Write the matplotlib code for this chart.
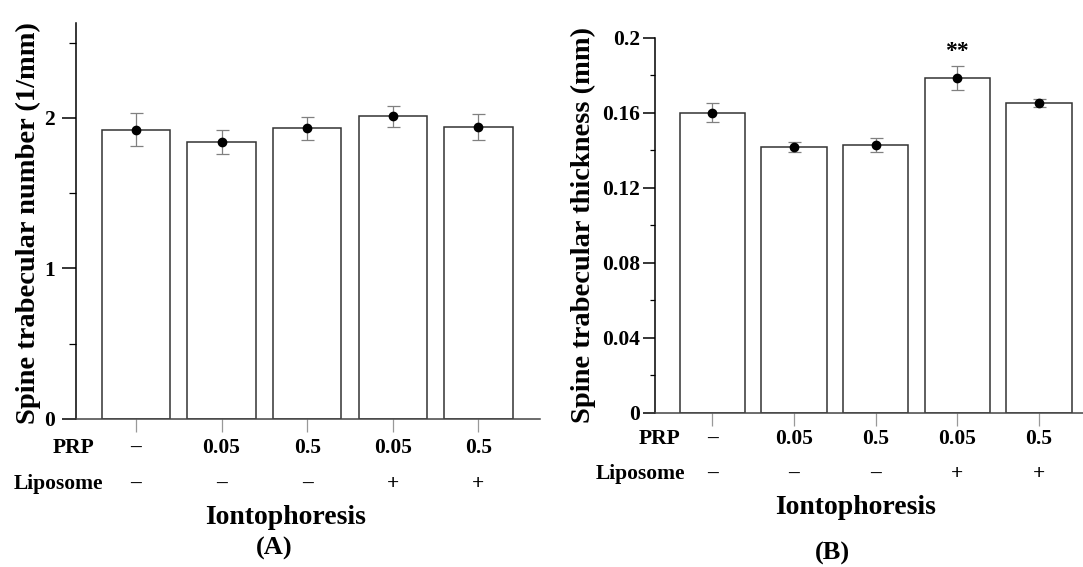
import matplotlib
matplotlib.use('Agg')
import matplotlib.pyplot as plt
import matplotlib.transforms as mtransforms
from matplotlib.ticker import MultipleLocator

plt.rcParams['font.family'] = ['Liberation Serif', 'DejaVu Serif']
plt.rcParams['font.weight'] = 'bold'

prp = ['\u2013', '0.05', '0.5', '0.05', '0.5']
liposome = ['\u2013', '\u2013', '\u2013', '+', '+']

number_mean = [1.92, 1.84, 1.93, 2.01, 1.94]
number_err = [0.11, 0.08, 0.075, 0.07, 0.085]

thick_mean = [0.160, 0.1419, 0.1429, 0.1785, 0.1653]
thick_err = [0.005, 0.0027, 0.0037, 0.0066, 0.0022]

W, H = 1083, 567
fig = plt.figure(figsize=(W / 100, H / 100), dpi=100)
PT = 0.72  # points per pixel at dpi 100


def fy(px):
    return 1 - px / H


def panel(rect, means, errs, ylim, major, minor, ylabel, xlim,
          rows_y, row_x, title_y, letter, letter_x, ylabel_xy, ion_x, ticks):
    ax = fig.add_axes(rect)
    x = list(range(len(means)))
    ax.bar(x, means, width=0.8, color='white', edgecolor='#333333', linewidth=1.1, zorder=2)
    ax.errorbar(x, means, yerr=errs, fmt='none', ecolor='#808080', elinewidth=0.9,
                capsize=6.5 * PT, capthick=0.9, zorder=3)
    ax.plot(x, means, 'o', color='black', markersize=6, zorder=4)
    ax.set_xlim(*xlim)
    ax.set_ylim(*ylim)
    ax.spines['top'].set_visible(False)
    ax.spines['right'].set_visible(False)
    ax.spines['left'].set_linewidth(1.1)
    ax.spines['bottom'].set_linewidth(1.1)
    ax.spines['bottom'].set_color('#444444')
    ax.yaxis.set_major_locator(MultipleLocator(major))
    ax.yaxis.set_minor_locator(MultipleLocator(minor))
    ax.yaxis.set_major_formatter(lambda v, p: f'{v:g}')
    ax.tick_params(axis='y', which='major', length=ticks[0] * PT, width=1.1,
                   labelsize=15.5, pad=ticks[1] * PT)
    ax.tick_params(axis='y', which='minor', length=ticks[2] * PT, width=0.9)
    ax.set_xticks(x)
    ax.tick_params(axis='x', length=13 * PT, width=0.9, color='#999999', labelbottom=False)
    for lab in ax.get_yticklabels():
        lab.set_fontweight('bold')
    fig.text(ylabel_xy[0] / W, fy(ylabel_xy[1]), ylabel, rotation=90,
             ha='center', va='center', fontsize=20.5, fontweight='bold')

    trans = mtransforms.blended_transform_factory(ax.transData, fig.transFigure)
    for i in x:
        ax.text(i, fy(rows_y[0]), prp[i], transform=trans, ha='center', va='center',
                fontsize=15.5, fontweight='bold', clip_on=False)
        ax.text(i, fy(rows_y[1]), liposome[i], transform=trans, ha='center', va='center',
                fontsize=15.5, fontweight='bold', clip_on=False)
    fig.text(row_x[0] / W, fy(rows_y[0]), 'PRP', ha='center', va='center',
             fontsize=15.5, fontweight='bold')
    fig.text(row_x[1] / W, fy(rows_y[1]), 'Liposome', ha='center', va='center',
             fontsize=15.5, fontweight='bold')
    fig.text(ion_x / W, fy(title_y), 'Iontophoresis', ha='center', va='center',
             fontsize=20, fontweight='bold')
    fig.text(letter_x / W, fy(letter[1]), '(' + letter[0] + ')', ha='center', va='center',
             fontsize=19, fontweight='bold')
    return ax


axA = panel([76 / W, fy(419), (540 - 76) / W, (419 - 23) / H],
            number_mean, number_err, (0, 2.63), 1, 0.5,
            'Spine trabecular number (1/mm)',
            (-0.7, 4.72), (448, 484), (74, 58), 518, ('A', 548), 274,
            (28, 223), 286, (14, 7, 7))

axB = panel([655 / W, fy(413), (1083 - 655) / W, (413 - 37.7) / H],
            thick_mean, thick_err, (0, 0.2), 0.04, 0.02,
            'Spine trabecular thickness (mm)',
            (-0.7, 4.54), (439, 474), (660, 640), 508, ('B', 553), 832,
            (583, 225), 856, (12, 3, 5))

axB.text(3, thick_mean[3] + thick_err[3] + 0.0022, '**', ha='center', va='bottom',
         fontsize=17, fontweight='bold')

fig.savefig('out.png', dpi=100)
